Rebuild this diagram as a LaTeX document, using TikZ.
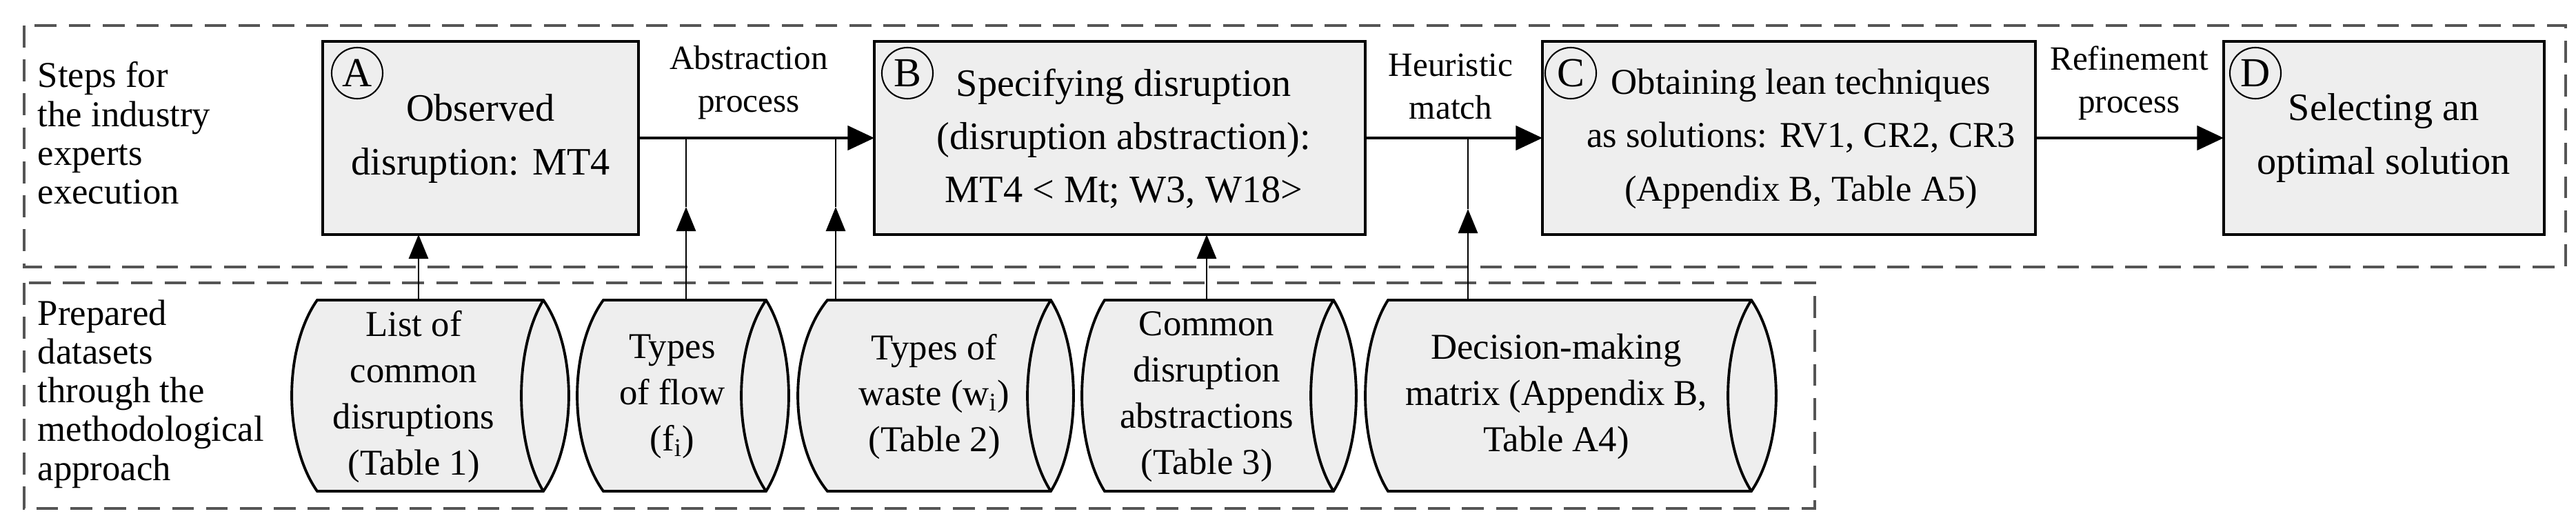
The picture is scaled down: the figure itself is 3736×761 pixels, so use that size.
\documentclass[tikz,border=0pt]{standalone}
\usepackage{fontspec}
\setmainfont{Liberation Serif}
\usetikzlibrary{arrows.meta}
\definecolor{boxfill}{HTML}{EEEEEE}
\definecolor{dashgray}{HTML}{555555}
\begin{document}
\begin{tikzpicture}[x=0.01cm,y=-0.01cm,
  stepbox/.style={draw,line width=1.2pt,fill=boxfill},
  steptext/.style={align=center,font=\fontsize{16}{22}\selectfont,inner sep=0pt},
  lettr/.style={circle,draw,line width=0.6pt,minimum size=0.74cm,inner sep=0pt,font=\fontsize{17}{20}\selectfont},
  cyltext/.style={align=center,font=\fontsize{15}{19}\selectfont,inner sep=0pt},
  cylshape/.style={draw,line width=1.1pt,fill=boxfill},
  lane/.style={draw=dashgray,line width=0.9pt,dash pattern=on 9pt off 5pt},
  lanetext/.style={align=left,anchor=west,font=\fontsize{15}{16}\selectfont,inner sep=0pt},
  flowlbl/.style={align=center,font=\fontsize{14}{17.6}\selectfont,inner sep=0pt},
  mainarrow/.style={line width=1.2pt,-{Triangle[length=11pt,width=10pt]}},
  feedarrow/.style={line width=0.8pt,-{Triangle[length=10pt,width=8pt]}},
  feedline/.style={line width=0.8pt}]
\useasboundingbox (0,0) rectangle (3736,761);
% lanes
\draw[lane] (35,37) rectangle (3721,387);
\draw[lane] (35,410) rectangle (2632,737);
\node[lanetext] (l1) at (54,193) {Steps for\\the industry\\experts\\execution};
\node[lanetext] (l2) at (54,571) {Prepared\\datasets\\through the\\methodological\\approach};
% step boxes
\draw[stepbox] (468,60) rectangle (926,340);
\draw[stepbox] (1268,60) rectangle (1980,340);
\draw[stepbox] (2237,60) rectangle (2952,340);
\draw[stepbox] (3225,60) rectangle (3690,340);
\coordinate (Aw) at (468,200); \coordinate (Ae) at (926,200); \coordinate (As) at (607,340);
\coordinate (Bw) at (1268,200); \coordinate (Be) at (1980,200); \coordinate (Bs) at (1750,340);
\coordinate (Cw) at (2237,200); \coordinate (Ce) at (2952,200);
\coordinate (Dw) at (3225,200);
\node[lettr] (cA) at (518,106) {A};
\node[lettr] (cB) at (1316,106) {B};
\node[lettr] (cC) at (2278,106) {C};
\node[lettr] (cD) at (3271,106) {D};
\node[steptext] (tA) at (697,201) {Observed\\disruption: MT4};
\node[steptext] (tB) at (1630,201) {Specifying disruption\\(disruption abstraction):\\MT4 \textless{} Mt; W3, W18\textgreater};
\node[steptext,font=\fontsize{15}{22}\selectfont] (tC) at (2612,201) {Obtaining lean techniques\\as solutions: RV1, CR2, CR3\\(Appendix B, Table A5)};
\node[steptext] (tD) at (3457,200) {Selecting an\\optimal solution};
% flow labels
\node[flowlbl] (fl1) at (1086,120) {Abstraction\\process};
\node[flowlbl] (fl2) at (2104,125) {Heuristic\\match};
\node[flowlbl] (fl3) at (3088,120) {Refinement\\process};
% main arrows
\draw[mainarrow] (Ae) -- (Bw);
\draw[mainarrow] (Be) -- (Cw);
\draw[mainarrow] (Ce) -- (Dw);
% cylinders
\newcommand{\mycyl}[7]{%
  \pgfmathsetmacro{\dd}{1.33*(#3-#2)}%
  \pgfmathsetmacro{\di}{1.33*(#4-#6)}%
  \pgfmathsetmacro{\dr}{1.33*(#5-#4)}%
  \draw[cylshape] (#3,435) -- (#4,435) .. controls ({#4+\dr},505) and ({#4+\dr},642) .. (#4,712) -- (#3,712) .. controls ({#3-\dd},642) and ({#3-\dd},505) .. (#3,435) -- cycle;
  \draw[line width=1.1pt] (#4,435) .. controls ({#4-\di},505) and ({#4-\di},642) .. (#4,712);
  \coordinate (#1) at (#7,435);
}
\mycyl{k1}{423}{460}{788}{825}{756}{607}
\mycyl{k2}{837}{875}{1111}{1144}{1075}{995}
\mycyl{k3}{1157}{1200}{1524}{1557}{1490}{1212}
\mycyl{k4}{1569}{1602}{1934}{1967}{1901}{1750}
\mycyl{k5}{1980}{2013}{2540}{2576}{2506}{2129}
\node[cyltext] (d1) at (600,575) {List of\\common\\disruptions\\(Table 1)};
\node[cyltext] (d2) at (975,575) {Types\\of flow\\(f\textsubscript{i})};
\node[cyltext] (d3) at (1355,575) {Types of\\waste (w\textsubscript{i})\\(Table 2)};
\node[cyltext] (d4) at (1750,575) {Common\\disruption\\abstractions\\(Table 3)};
\node[cyltext] (d5) at (2257,575) {Decision-making\\matrix (Appendix B,\\Table A4)};
% feed arrows
\coordinate (j2) at (995,200); \coordinate (m2) at (995,300);
\coordinate (j3) at (1212,200); \coordinate (m3) at (1212,300);
\coordinate (j5) at (2129,200); \coordinate (m5) at (2129,303);
\draw[feedarrow] (k1) -- (As);
\draw[feedarrow] (k4) -- (Bs);
\draw[feedarrow] (k2) -- (m2); \draw[feedline] (m2) -- (j2);
\draw[feedarrow] (k3) -- (m3); \draw[feedline] (m3) -- (j3);
\draw[feedarrow] (k5) -- (m5); \draw[feedline] (m5) -- (j5);
\end{tikzpicture}
\end{document}
